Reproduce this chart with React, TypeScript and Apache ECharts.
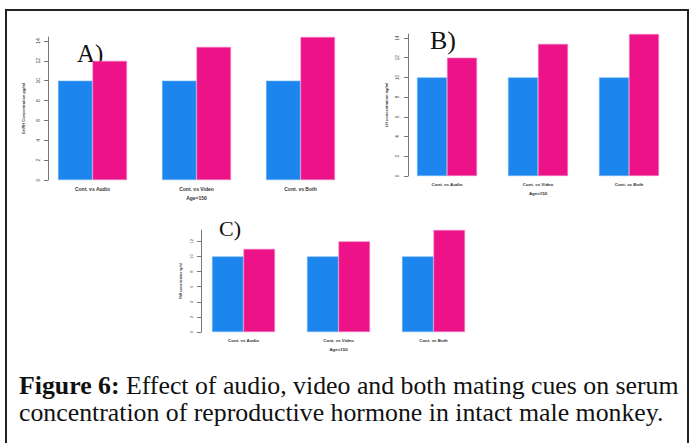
import React, { useEffect, useRef } from "react";
import * as echarts from "echarts";

const categories = ["Cont. vs Audio", "Cont. vs Video", "Cont. vs Both"];
const gnrhControl = [10, 10, 10];
const gnrhCue = [12, 13.4, 14.4];
const lhControl = [10, 10, 10];
const lhCue = [12, 13.4, 14.4];
const fshControl = [10, 10, 10];
const fshCue = [11, 12, 13.5];
const ticksAB = [0, 2, 4, 6, 8, 10, 12, 14];
const ticksC = [0, 2, 4, 6, 8, 10, 12];
const xTitle = "Age=150";
const yTitles = ["GnRH Concentration pg/ml", "LH concentration ng/ml", "FSH concentration ng/ml"];
const panelLetters = ["A)", "B)", "C)"];
const captionBold = "Figure 6:";
const captionLine1 = " Effect of audio, video and both mating cues on serum";
const captionLine2 = "concentration of reproductive hormone in intact male monkey.";

const BLUE = "#1C86EE";
const PINK = "#EE1289";

export default function App() {
  const ref = useRef<HTMLDivElement>(null);
  useEffect(() => {
    if (!ref.current) return;
    const chart = echarts.init(ref.current, null, { renderer: "svg" });
    const grids = [
      { left: 40.5, top: 37, width: 312, height: 143, off: -7.5, labelFs: 5, nameFs: 4, nameGap: 23, xLabelFs: 5, ticks: ticksAB },
      { left: 401.5, top: 34, width: 273, height: 142, off: -6.5, labelFs: 4.5, nameFs: 4, nameGap: 20, xLabelFs: 4.4, ticks: ticksAB },
      { left: 196, top: 230, width: 285, height: 102, off: -5, labelFs: 4, nameFs: 3, nameGap: 19, xLabelFs: 4.4, ticks: ticksC },
    ];
    const barWidths = [34.5, 30, 31.5];
    const data = [
      [gnrhControl, gnrhCue],
      [lhControl, lhCue],
      [fshControl, fshCue],
    ];
    const font = "Liberation Sans, Arial, sans-serif";
    const serif = "'Liberation Serif', serif";
    const option: any = {
      animation: false,
      backgroundColor: "#ffffff",
      grid: grids.map((g) => ({ left: g.left, top: g.top, width: g.width, height: g.height })),
      xAxis: grids.map((g, i) => ({
        type: "category",
        gridIndex: i,
        data: categories,
        axisLine: { show: false },
        axisTick: { show: false },
        axisLabel: { fontSize: g.xLabelFs, fontWeight: "bold", color: "#333", margin: 6, fontFamily: font },
        name: xTitle,
        nameLocation: "middle",
        nameGap: 15,
        nameTextStyle: { fontSize: g.xLabelFs, fontWeight: "bold", color: "#333", fontFamily: font },
      })),
      yAxis: grids.map((g, i) => ({
        type: "value",
        gridIndex: i,
        min: 0,
        max: "dataMax",
        offset: g.off,
        splitLine: { show: false },
        axisLine: { show: true, lineStyle: { color: "#777", width: 1 } },
        axisTick: { show: true, length: 4, lineStyle: { color: "#777" }, customValues: g.ticks },
        axisLabel: { rotate: 90, fontSize: g.labelFs, color: "#444", margin: 8, fontFamily: font, customValues: g.ticks },
        name: yTitles[i],
        nameLocation: "middle",
        nameGap: g.nameGap,
        nameRotate: 90,
        nameTextStyle: { fontSize: g.nameFs, fontWeight: "bold", color: "#333", fontFamily: font },
      })),
      series: data.flatMap((pair, i) =>
        pair.map((vals, j) => ({
          type: "bar",
          xAxisIndex: i,
          yAxisIndex: i,
          data: vals,
          barWidth: barWidths[i],
          barGap: "0%",
          itemStyle: { color: j === 0 ? BLUE : PINK, borderColor: j === 0 ? "#6fb3f5" : "#f47fbf", borderWidth: 0.6 },
        }))
      ),
      graphic: [
        {
          type: "rect",
          shape: { x: 6, y: 10, width: 682, height: 460 },
          style: { fill: "none", stroke: "#222", lineWidth: 2 },
          silent: true,
        },
        { type: "text", x: 77, y: 53, style: { text: panelLetters[0], font: "25px " + serif, fill: "#111", verticalAlign: "middle" } },
        { type: "text", x: 430, y: 40, style: { text: panelLetters[1], font: "26px " + serif, fill: "#111", verticalAlign: "middle" } },
        { type: "text", x: 219, y: 228, style: { text: panelLetters[2], font: "22px " + serif, fill: "#111", verticalAlign: "middle" } },
        {
          type: "text",
          x: 19,
          y: 385,
          style: {
            text: "{b|" + captionBold + "}" + captionLine1,
            font: "25.8px " + serif,
            fill: "#111",
            verticalAlign: "middle",
            rich: { b: { fontWeight: "bold", fontSize: 25.8, fontFamily: serif, fill: "#111" } },
          },
        },
        {
          type: "text",
          x: 19,
          y: 412,
          style: { text: captionLine2, font: "25.8px " + serif, fill: "#111", verticalAlign: "middle" },
        },
      ],
    };
    chart.setOption(option);
    return () => chart.dispose();
  }, []);
  return (
    <div
      ref={ref}
      style={{ position: "fixed", left: 0, top: 0, width: 691, height: 443, background: "#fff" }}
    />
  );
}
